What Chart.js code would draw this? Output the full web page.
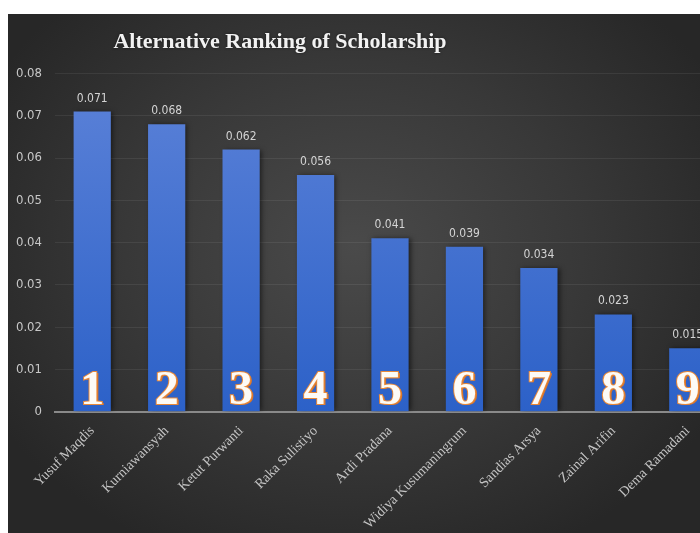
<!DOCTYPE html>
<html>
<head>
<meta charset="utf-8">
<script src="https://cdn.jsdelivr.net/npm/chart.js@4.4.1/dist/chart.umd.min.js"></script>
<style>
  html, body { margin: 0; padding: 0; background: #ffffff; overflow: hidden; }
  #frame {
    position: absolute; left: 8px; top: 14px; width: 692px; height: 519px;
    overflow: hidden;
    background: radial-gradient(ellipse 60% 65% at 50% 45%, #4a4a4a 0%, #383838 55%, #272727 100%);
  }
  #chart { display: block; }
</style>
</head>
<body>
<div id="frame"><canvas id="chart" width="730" height="519"></canvas></div>
<script>
// chart data
const names = ["Yusuf Maqdis", "Kurniawansyah", "Ketut Purwanti", "Raka Sulistiyo", "Ardi Pradana",
  "Widiya Kusumaningrum", "Sandias Arsya", "Zainal Arifin", "Dema Ramadani"];
const scores = [0.071, 0.068, 0.062, 0.056, 0.041, 0.039, 0.034, 0.023, 0.015];
const ranks = [1, 2, 3, 4, 5, 6, 7, 8, 9];
const yTicks = [0, 0.01, 0.02, 0.03, 0.04, 0.05, 0.06, 0.07, 0.08];
const chartTitle = "Alternative Ranking of Scholarship";

const NARROW = "'Liberation Sans Narrow', 'DejaVu Sans Condensed', sans-serif";
const SERIF = "'Liberation Serif', 'DejaVu Serif', serif";

function barFill(context) {
  const chart = context.chart;
  const area = chart.chartArea;
  if (!area) return "#3a6acb";
  const g = chart.ctx.createLinearGradient(0, area.top, 0, area.bottom);
  g.addColorStop(0, "#5c82d8");
  g.addColorStop(1, "#2c61c8");
  return g;
}

// title drawn at a fixed spot (the original is centred on a wider, cropped chart)
const titlePlugin = {
  id: "fixedTitle",
  afterDraw(chart) {
    const ctx = chart.ctx;
    ctx.save();
    ctx.font = "bold 22px " + SERIF;
    ctx.fillStyle = "#f2f2f2";
    ctx.textAlign = "center";
    ctx.textBaseline = "alphabetic";
    ctx.shadowColor = "rgba(0,0,0,0.5)";
    ctx.shadowBlur = 3;
    ctx.fillText(chartTitle, 272, 34);
    ctx.restore();
  }
};

// bar shadow + value labels + big rank digits
const barDeco = {
  id: "barDeco",
  beforeDatasetDraw(chart) {
    const ctx = chart.ctx;
    ctx.save();
    ctx.shadowColor = "rgba(0,0,0,0.55)";
    ctx.shadowBlur = 5;
    ctx.shadowOffsetX = 2;
    ctx.shadowOffsetY = 0;
  },
  afterDatasetDraw(chart) {
    chart.ctx.restore();
  },
  afterDatasetsDraw(chart) {
    const ctx = chart.ctx;
    const meta = chart.getDatasetMeta(0);
    meta.data.forEach((bar, i) => {
      // value label
      ctx.save();
      ctx.font = "12px " + NARROW;
      ctx.fillStyle = "#d4d4d4";
      ctx.textAlign = "center";
      ctx.textBaseline = "alphabetic";
      ctx.fillText(scores[i].toFixed(3), bar.x, bar.y - 10);
      ctx.restore();

      // rank digit
      ctx.save();
      ctx.font = "bold 48px " + SERIF;
      ctx.textAlign = "center";
      ctx.textBaseline = "alphabetic";
      const bx = bar.x, by = bar.base - 7;
      ctx.fillStyle = "#d9762b";
      ctx.fillText(String(ranks[i]), bx + 2, by + 1);
      ctx.lineWidth = 2;
      ctx.strokeStyle = "#e8893a";
      ctx.strokeText(String(ranks[i]), bx, by);
      ctx.fillStyle = "#fdfbf7";
      ctx.fillText(String(ranks[i]), bx, by);
      ctx.restore();
    });
  }
};

const ctx = document.getElementById("chart").getContext("2d");
new Chart(ctx, {
  type: "bar",
  data: {
    labels: names,
    datasets: [{
      data: scores,
      backgroundColor: barFill,
      borderWidth: 0,
      barPercentage: 0.5,
      categoryPercentage: 1.0
    }]
  },
  options: {
    responsive: false,
    animation: false,
    layout: { padding: { top: 59.5, right: 13, left: 0, bottom: 0 } },
    plugins: {
      legend: { display: false },
      title: { display: false },
      tooltip: { enabled: false }
    },
    scales: {
      x: {
        grid: { display: false, drawTicks: false },
        border: { display: true, color: "#8a8a8a", width: 2 },
        ticks: {
          color: "#c4c4c4",
          font: { family: SERIF, size: 14 },
          minRotation: 45,
          maxRotation: 45,
          padding: 11,
          autoSkip: false
        },
        afterFit(scale) { scale.height = 121.3; }
      },
      y: {
        min: 0,
        max: 0.08,
        afterBuildTicks(scale) { scale.ticks = yTicks.map(v => ({ value: v })); },
        grid: { color: "rgba(255,255,255,0.07)", lineWidth: 1, drawTicks: false },
        border: { display: false },
        ticks: {
          color: "#c8c8c8",
          font: { family: NARROW, size: 13 },
          padding: 13,
          callback: (v) => String(v)
        },
        afterFit(scale) { scale.width = 47; }
      }
    }
  },
  plugins: [barDeco, titlePlugin]
});
</script>
</body>
</html>
